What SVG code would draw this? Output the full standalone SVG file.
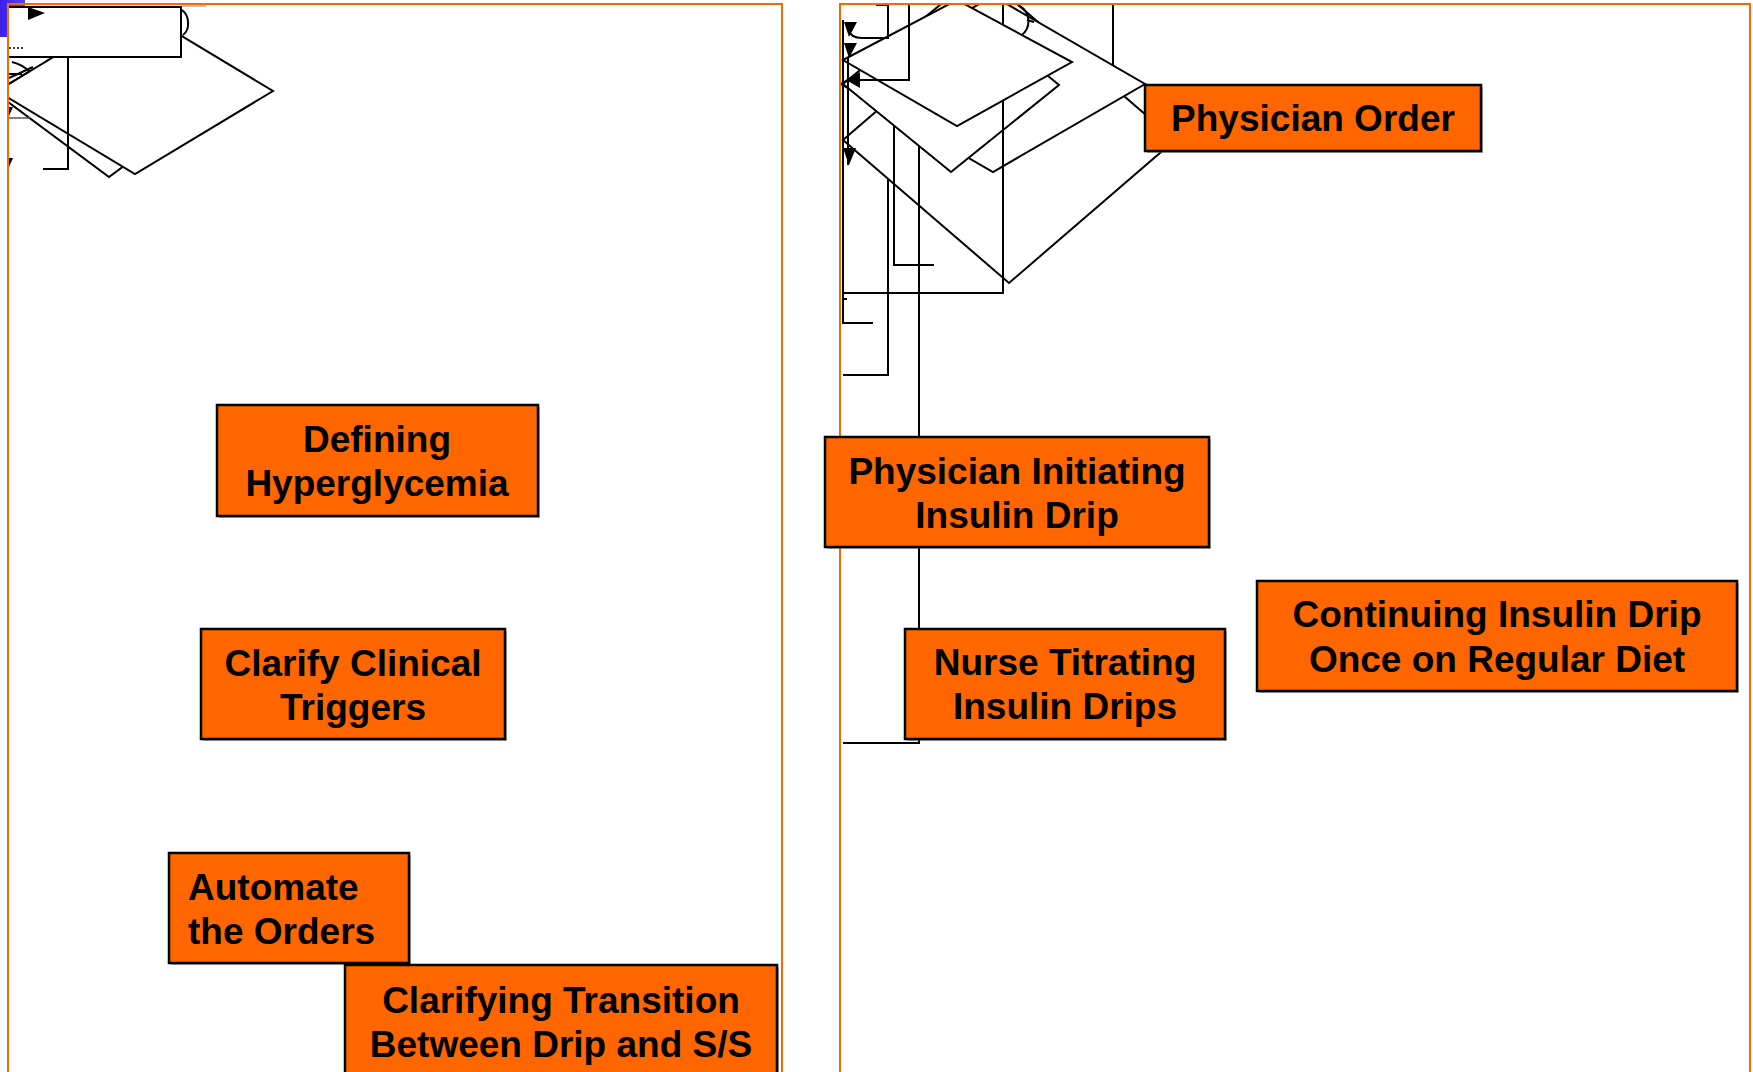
<svg xmlns="http://www.w3.org/2000/svg" width="1753" height="1072" viewBox="0 0 1753 1072">
<style>
.panel{fill:none;stroke:#FF6600;stroke-width:2}
.ln{fill:none;stroke:#000;stroke-width:2}
.dm{fill:#fff;stroke:#000;stroke-width:2}
.ah{fill:#000;stroke:none}
.box{fill:#FF6600;stroke:#000;stroke-width:2.5}
.shd{fill:#666;opacity:0.55}
.t{font-family:"Liberation Sans",Arial,sans-serif;font-weight:bold;font-size:37px;fill:#000}
.c{text-anchor:middle}
</style>
<defs>
<linearGradient id="blue" x1="0" y1="0" x2="1" y2="0">
<stop offset="0" stop-color="#3a1ee6"/>
<stop offset="1" stop-color="#5b44f2"/>
</linearGradient>
<clipPath id="clipL"><rect x="8" y="5" width="774" height="1067"/></clipPath>
<clipPath id="clipR"><rect x="841" y="5" width="909" height="1067"/></clipPath>
</defs>
<rect width="1753" height="1072" fill="#fff"/>
<rect x="0" y="0" width="25" height="37" fill="url(#blue)"/>

<g id="connectors">
<g id="left-tangle" clip-path="url(#clipL)">
<polygon class="dm" points="0,96 109,15 218,96 109,177"/>
<polygon class="dm" points="-3,91 135,8 273,91 135,174"/>
<rect class="dm" x="8" y="7" width="173" height="50"/>
<line x1="181" y1="6" x2="206" y2="6" stroke="#888" stroke-width="1"/>
<path class="ln" d="M182,10 C190,16 190,30 183,35"/>
<path class="ln" d="M68,57 V169 H43"/>
<polygon class="ah" points="28,7 45,13 28,20"/>
<path d="M9,48 H23" stroke="#000" stroke-width="1.5" stroke-dasharray="2,2"/>
<path class="ln" d="M33,67 L9,78 M30,71 L9,84 M12,62 C20,64 26,68 30,72 M9,74 L22,74"/>
<line x1="8" y1="118" x2="30" y2="118" stroke="#555" stroke-width="1.5"/>
<polygon class="ah" points="8,107 13,107 9,116"/>
<polygon class="ah" points="8,158 13,158 9,167"/>
</g>
<g id="right-tangle" clip-path="url(#clipR)">
<path class="ln" d="M888,150 V375 H843"/>
<path class="ln" d="M1113,5 V90"/>
<polygon class="dm" points="843,140 1009,-3 1175,140 1009,283"/>
<polygon class="dm" points="841,84 993,-4 1145,84 993,172"/>
<path class="ln" d="M894,100 V265 H934"/>
<path class="ln" d="M919,100 V743 H843"/>
<polygon class="dm" points="843,84 951,-4 1059,85 951,172"/>
<path class="ln" d="M1003,5 V293 H843"/>
<path class="ln" d="M1018,5 C1032,12 1031,28 1021,36"/>
<path class="ln" d="M1027,20 L1034,22"/>
<polygon class="dm" points="843,60 957,0 1072,62 957,126"/>
<path class="ln" d="M909,5 V80 H858"/>
<path class="ln" d="M876,5 H888 V38 H862 C855,38 850,35 849,30"/>
<path class="ln" d="M843,20 V323 H873"/>
<path class="ln" d="M848,58 V165"/>
<path class="ln" d="M843,299 H847"/>
<polygon class="ah" points="844,22 857,22 849,37"/>
<polygon class="ah" points="844,43 857,43 849,58"/>
<polygon class="ah" points="860,72 860,88 846,80"/>
<polygon class="ah" points="843,148 856,148 849,165"/>
</g>
</g>

<rect class="panel" x="8" y="4" width="774" height="1080"/>
<rect class="panel" x="840" y="4" width="910" height="1080"/>

<g id="defining-hyperglycemia">
<rect class="shd" x="219" y="407" width="321" height="111"/>
<rect class="box" x="217" y="405" width="321" height="111"/>
<text class="t c" x="377" y="452">Defining</text>
<text class="t c" x="377" y="496">Hyperglycemia</text>
</g>
<g id="clarify-clinical-triggers">
<rect class="shd" x="203" y="631" width="304" height="110"/>
<rect class="box" x="201" y="629" width="304" height="110"/>
<text class="t c" x="353" y="676">Clarify Clinical</text>
<text class="t c" x="353" y="720">Triggers</text>
</g>
<g id="automate-orders">
<rect class="shd" x="171" y="855" width="240" height="110"/>
<rect class="box" x="169" y="853" width="240" height="110"/>
<text class="t" x="188" y="900">Automate</text>
<text class="t" x="188" y="944">the Orders</text>
</g>
<g id="clarifying-transition">
<rect class="shd" x="347" y="967" width="432" height="120"/>
<rect class="box" x="345" y="965" width="432" height="120"/>
<text class="t c" x="561" y="1013">Clarifying Transition</text>
<text class="t c" x="561" y="1057">Between Drip and S/S</text>
</g>
<g id="physician-order">
<rect class="shd" x="1147" y="87" width="336" height="66"/>
<rect class="box" x="1145" y="85" width="336" height="66"/>
<text class="t c" x="1313" y="131">Physician Order</text>
</g>
<g id="physician-initiating">
<rect class="shd" x="827" y="439" width="384" height="110"/>
<rect class="box" x="825" y="437" width="384" height="110"/>
<text class="t c" x="1017" y="484">Physician Initiating</text>
<text class="t c" x="1017" y="528">Insulin Drip</text>
</g>
<g id="nurse-titrating">
<rect class="shd" x="907" y="631" width="320" height="110"/>
<rect class="box" x="905" y="629" width="320" height="110"/>
<text class="t c" x="1065" y="675">Nurse Titrating</text>
<text class="t c" x="1065" y="719">Insulin Drips</text>
</g>
<g id="continuing-insulin-drip">
<rect class="shd" x="1259" y="583" width="480" height="110"/>
<rect class="box" x="1257" y="581" width="480" height="110"/>
<text class="t c" x="1497" y="627">Continuing Insulin Drip</text>
<text class="t c" x="1497" y="672">Once on Regular Diet</text>
</g>
</svg>
